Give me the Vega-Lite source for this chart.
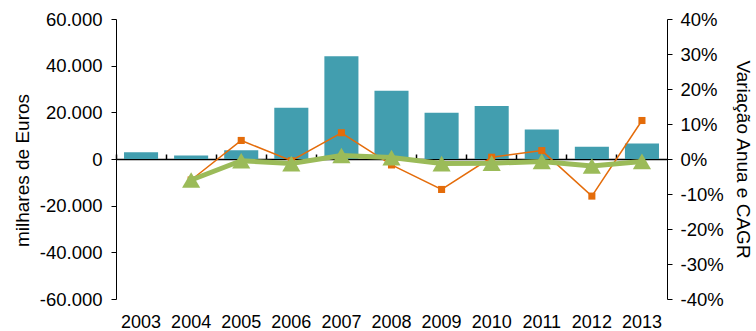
{
  "$schema": "https://vega.github.io/schema/vega-lite/v6.json",
  "width": 551,
  "height": 280,
  "autosize": "none",
  "padding": {"left": 116, "top": 19, "right": 89, "bottom": 32},
  "config": {
    "view": {"stroke": null},
    "font": "Liberation Sans",
    "axis": {
      "labelFont": "Liberation Sans",
      "titleFont": "Liberation Sans",
      "labelFontSize": 18.5,
      "titleFontSize": 19,
      "titleFontWeight": "normal",
      "labelColor": "#000",
      "titleColor": "#000",
      "domainColor": "#000",
      "tickColor": "#000",
      "grid": false
    }
  },
  "data": {
    "values": [
      {"ano": "2003", "valor": 2900, "var": null, "cagr": null},
      {"ano": "2004", "valor": 1500, "var": -0.06, "cagr": -0.06},
      {"ano": "2005", "valor": 3800, "var": 0.053, "cagr": -0.005},
      {"ano": "2006", "valor": 22000, "var": -0.005, "cagr": -0.013},
      {"ano": "2007", "valor": 44000, "var": 0.075, "cagr": 0.01},
      {"ano": "2008", "valor": 29200, "var": -0.017, "cagr": 0.004},
      {"ano": "2009", "valor": 19800, "var": -0.087, "cagr": -0.013},
      {"ano": "2010", "valor": 22700, "var": 0.005, "cagr": -0.012},
      {"ano": "2011", "valor": 12600, "var": 0.024, "cagr": -0.007},
      {"ano": "2012", "valor": 5200, "var": -0.106, "cagr": -0.02},
      {"ano": "2013", "valor": 6600, "var": 0.11, "cagr": -0.007}
    ]
  },
  "layer": [
    {
      "mark": {"type": "bar", "color": "#429EAF", "width": {"band": 0.68}},
      "encoding": {
        "x": {
          "field": "ano", "type": "ordinal",
          "scale": {"type": "band", "paddingInner": 0, "paddingOuter": 0},
          "axis": {"title": null, "domain": false, "ticks": false, "labelAngle": 0, "labelPadding": 14, "labelFontSize": 18}
        },
        "y": {
          "field": "valor", "type": "quantitative",
          "scale": {"domain": [-60000, 60000], "nice": false},
          "axis": {
            "title": "milhares de Euros",
            "values": [-60000, -40000, -20000, 0, 20000, 40000, 60000],
            "labelExpr": "datum.value == 0 ? '0' : (datum.value < 0 ? '-' : '') + replace(format(abs(datum.value), ',.0f'), ',', '.')",
            "tickSize": 5,
            "labelPadding": 9,
            "titleX": -88,
            "titleY": 151,
            "titleBaseline": "alphabetic"
          }
        }
      }
    },
    {
      "encoding": {
        "x": {
          "field": "ano", "type": "ordinal",
          "axis": {"title": null, "labels": false, "bandPosition": 0, "tickSize": 5, "offset": -140, "domainWidth": 1.5, "tickWidth": 1.5}
        }
      },
      "layer": [
        {
          "mark": {"type": "line", "color": "#E46C0A", "strokeWidth": 1.5, "point": {"shape": "square", "size": 50, "filled": true, "color": "#E46C0A"}},
          "encoding": {
            "y": {
              "field": "var", "type": "quantitative",
              "scale": {"domain": [-0.4, 0.4], "nice": false},
              "axis": {
                "orient": "right",
                "title": "Variação Anua e CAGR",
                "values": [-0.4, -0.3, -0.2, -0.1, 0, 0.1, 0.2, 0.3, 0.4],
                "labelExpr": "toString(round(datum.value * 100)) + '%'",
                "tickSize": 5,
                "labelPadding": 8,
                "titlePadding": 9
              }
            }
          }
        },
        {
          "mark": {"type": "line", "color": "#9BBB59", "strokeWidth": 5, "point": {"shape": "triangle-up", "size": 330, "filled": true, "color": "#9BBB59"}},
          "encoding": {
            "y": {
              "field": "cagr", "type": "quantitative",
              "scale": {"domain": [-0.4, 0.4], "nice": false},
              "axis": {
                "orient": "right",
                "title": "Variação Anua e CAGR",
                "values": [-0.4, -0.3, -0.2, -0.1, 0, 0.1, 0.2, 0.3, 0.4],
                "labelExpr": "toString(round(datum.value * 100)) + '%'",
                "tickSize": 5,
                "labelPadding": 8,
                "titlePadding": 9
              }
            }
          }
        }
      ]
    }
  ],
  "resolve": {"scale": {"y": "independent"}, "axis": {"x": "independent"}}
}
